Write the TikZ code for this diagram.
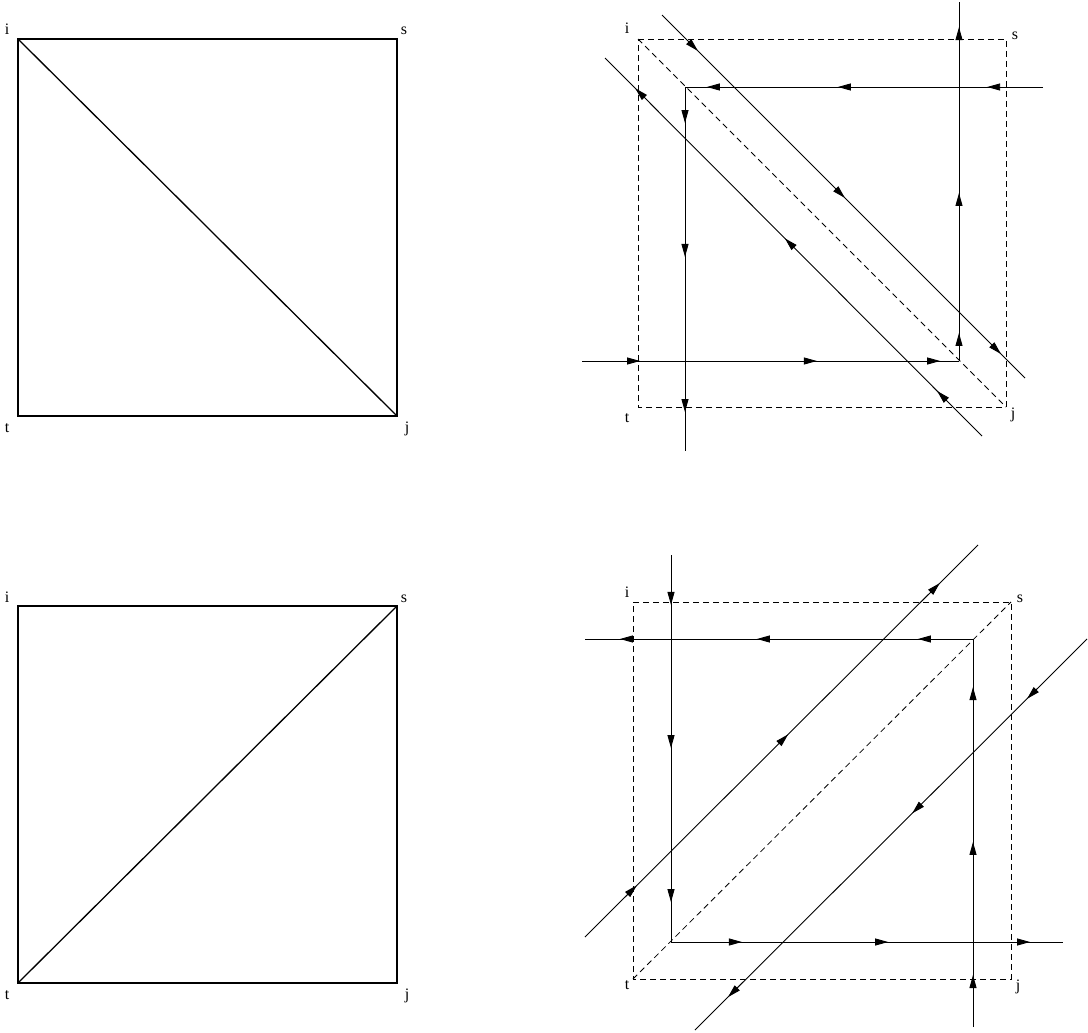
\documentclass[tikz,border=0pt]{standalone}
\usepackage{fontspec}
\setmainfont{Liberation Serif}
\usetikzlibrary{arrows.meta,decorations.markings}
\tikzset{
  >={Triangle[length=13pt,width=7pt]},
  corner/.style={anchor=base,inner sep=0pt,font=\fontsize{16}{18}\selectfont},
  frame/.style={line width=1.3pt},
  guide/.style={dash pattern=on 6pt off 4pt,line width=0.8pt},
  flow/.style n args={3}{line width=0.9pt,postaction={decorate,decoration={markings,
    mark=at position #1 with {\arrow{>}},
    mark=at position #2 with {\arrow{>}},
    mark=at position #3 with {\arrow{>}}}}}
}
\begin{document}
\begin{tikzpicture}[x=1pt,y=-1pt]
\useasboundingbox (0,0) rectangle (1088,1033);

% upper left
\coordinate (i1) at (18,39);
\coordinate (s1) at (397,39);
\coordinate (t1) at (18,416);
\coordinate (j1) at (397,416);
\draw[frame] (i1) -- (s1) -- (j1) -- (t1) -- cycle;
\draw[frame] (i1) -- (j1);
\node[corner] (li1) at (7,35) {i};
\node[corner] (ls1) at (404,35) {s};
\node[corner] (lt1) at (7,432) {t};
\node[corner] (lj1) at (407,432) {j};

% upper right
\coordinate (i2) at (638,39);
\coordinate (s2) at (1006,39);
\coordinate (t2) at (638,407);
\coordinate (j2) at (1006,407);
\coordinate (a2) at (685,87);
\coordinate (b2) at (959,361);
\coordinate (p2) at (1043,87);
\coordinate (q2) at (685,451);
\coordinate (r2) at (582,361);
\coordinate (u2) at (959,2);
\coordinate (d2a) at (662,15);
\coordinate (d2b) at (1025,378);
\coordinate (e2a) at (982,436);
\coordinate (e2b) at (605,58);
\draw[guide] (i2) -- (s2) -- (j2) -- (t2) -- cycle;
\draw[guide] (i2) -- (j2);
\draw[flow={0.156}{0.573}{0.939}] (p2) -- (a2);
\draw[flow={0.099}{0.467}{0.893}] (a2) -- (q2);
\draw[flow={0.154}{0.623}{0.95}] (r2) -- (b2);
\draw[flow={0.078}{0.468}{0.93}] (b2) -- (u2);
\draw[flow={0.099}{0.504}{0.934}] (d2a) -- (d2b);
\draw[flow={0.119}{0.523}{0.92}] (e2a) -- (e2b);
\node[corner] (li2) at (627,34) {i};
\node[corner] (ls2) at (1015,40) {s};
\node[corner] (lt2) at (627,422) {t};
\node[corner] (lj2) at (1013,418) {j};

% lower left
\coordinate (i3) at (18,606);
\coordinate (s3) at (397,606);
\coordinate (t3) at (18,983);
\coordinate (j3) at (397,983);
\draw[frame] (i3) -- (s3) -- (j3) -- (t3) -- cycle;
\draw[frame] (t3) -- (s3);
\node[corner] (li3) at (7,602) {i};
\node[corner] (ls3) at (404,602) {s};
\node[corner] (lt3) at (7,999) {t};
\node[corner] (lj3) at (407,999) {j};

% lower right
\coordinate (i4) at (633,602);
\coordinate (s4) at (1011,602);
\coordinate (t4) at (633,979);
\coordinate (j4) at (1011,979);
\coordinate (a4) at (671,942);
\coordinate (b4) at (973,639);
\coordinate (p4) at (671,555);
\coordinate (q4) at (585,639);
\coordinate (r4) at (1063,942);
\coordinate (u4) at (973,1027);
\coordinate (d4a) at (585,937);
\coordinate (d4b) at (978,545);
\coordinate (e4a) at (1087,639);
\coordinate (e4b) at (695,1030);
\draw[guide] (i4) -- (s4) -- (j4) -- (t4) -- cycle;
\draw[guide] (t4) -- (s4);
\draw[flow={0.129}{0.499}{0.897}] (p4) -- (a4);
\draw[flow={0.142}{0.557}{0.91}] (b4) -- (q4);
\draw[flow={0.181}{0.554}{0.916}] (a4) -- (r4);
\draw[flow={0.134}{0.477}{0.876}] (u4) -- (b4);
\draw[flow={0.132}{0.517}{0.903}] (d4a) -- (d4b);
\draw[flow={0.153}{0.446}{0.916}] (e4a) -- (e4b);
\node[corner] (li4) at (627,597) {i};
\node[corner] (ls4) at (1020,602) {s};
\node[corner] (lt4) at (627,989) {t};
\node[corner] (lj4) at (1018,990) {j};
\end{tikzpicture}
\end{document}
